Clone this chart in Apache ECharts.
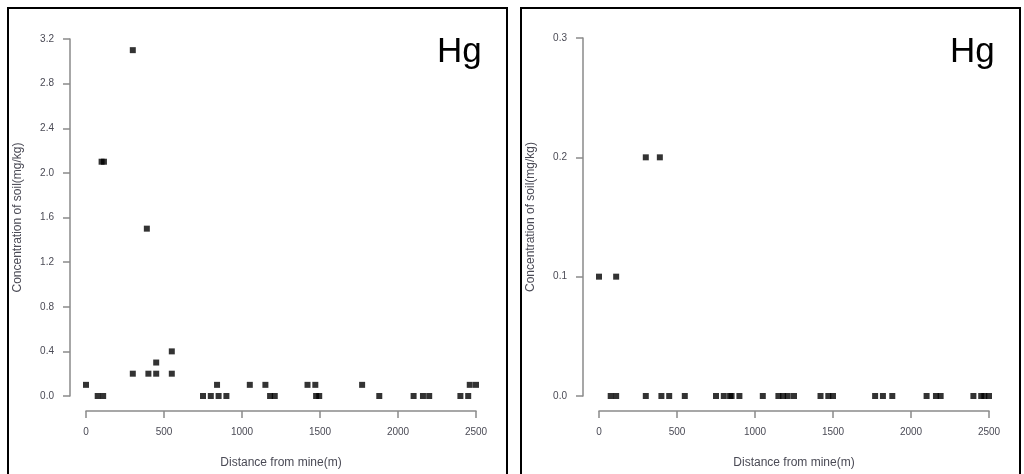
<!DOCTYPE html>
<html><head><meta charset="utf-8">
<script src="https://cdn.jsdelivr.net/npm/echarts@6/dist/echarts.min.js"></script>
<style>html,body{margin:0;padding:0;background:#fff}#c{width:1024px;height:474px}</style>
</head><body><div id="c"></div>
<script>
const leftX = [0, 75, 110, 100, 115, 300, 300, 390, 400, 450, 450, 550, 550, 750, 800, 840, 850, 900, 1050, 1150, 1180, 1210, 1420, 1470, 1475, 1495, 1770, 1880, 2100, 2160, 2200, 2400, 2450, 2460, 2500];
const leftY = [0.1, 0, 0, 2.1, 2.1, 3.1, 0.2, 1.5, 0.2, 0.3, 0.2, 0.4, 0.2, 0, 0, 0.1, 0, 0, 0.1, 0.1, 0, 0, 0.1, 0.1, 0, 0, 0.1, 0, 0, 0, 0, 0, 0, 0.1, 0.1];
const rightX = [0, 110, 300, 390, 75, 110, 300, 400, 450, 550, 750, 800, 840, 850, 900, 1050, 1150, 1180, 1210, 1250, 1420, 1470, 1500, 1770, 1820, 1880, 2100, 2160, 2190, 2400, 2450, 2470, 2500];
const rightY = [0.1, 0.1, 0.2, 0.2, 0, 0, 0, 0, 0, 0, 0, 0, 0, 0, 0, 0, 0, 0, 0, 0, 0, 0, 0, 0, 0, 0, 0, 0, 0, 0, 0, 0, 0];
const xTicks = [0, 500, 1000, 1500, 2000, 2500];
const leftYTicks = [0, 0.4, 0.8, 1.2, 1.6, 2.0, 2.4, 2.8, 3.2];
const rightYTicks = [0, 0.1, 0.2, 0.3];
const xName = 'Distance from mine(m)';
const yName = 'Concentration of soil(mg/kg)';
const panelLabel = 'Hg';

const FONT = 'Liberation Sans, Arial, sans-serif';
const axisCol = '#8a8a8a';
const txtCol = '#4a4a55';
function pairs(xs, ys){ return xs.map((x,i)=>[x, ys[i]]); }
const hidden = {show:false};
function hx(gi, min, max){ return {gridIndex:gi, type:'value', min:min, max:max, show:false, splitLine:hidden}; }
function visX(gi){
  return {gridIndex: gi, type:'value', min: xTicks[0], max: xTicks[xTicks.length-1], interval: 500, position:'bottom',
    splitLine:{show:false},
    axisLine:{show:true, lineStyle:{color:axisCol, width:1.5}},
    axisTick:{show:true, length:7, lineStyle:{color:axisCol, width:1.5}},
    axisLabel:{margin:16, color:txtCol, fontSize:10, fontFamily:FONT, formatter: v => String(v)},
    name: xName, nameLocation:'middle', nameGap:46, nameTextStyle:{color:txtCol, fontSize:12, fontFamily:FONT}};
}
function visY(gi, ticks){
  const iv = +(ticks[1]-ticks[0]).toFixed(3);
  return {gridIndex: gi, type:'value', min: ticks[0], max: ticks[ticks.length-1], interval: iv, position:'left',
    splitLine:{show:false},
    axisLine:{show:true, lineStyle:{color:axisCol, width:1.5}},
    axisTick:{show:true, length:7, lineStyle:{color:axisCol, width:1.5}},
    axisLabel:{margin:16, color:txtCol, fontSize:10, fontFamily:FONT, formatter: v => v.toFixed(1)},
    name: yName, nameLocation:'middle', nameGap:46, nameTextStyle:{color:txtCol, fontSize:12, fontFamily:FONT}};
}
const panels = [
  {left:86, top:39, height:357, yTicks:leftYTicks},
  {left:599, top:38, height:358, yTicks:rightYTicks}
];
const grids = [], xAxes = [], yAxes = [];
panels.forEach((p, i) => {
  const g = i*3;
  const ymin = p.yTicks[0], ymax = p.yTicks[p.yTicks.length-1];
  grids.push({left:p.left, width:390, top:p.top, height:p.height});
  xAxes.push(hx(g, xTicks[0], xTicks[xTicks.length-1]));
  yAxes.push(hx(g, ymin, ymax));
  grids.push({left:p.left, width:390, top:p.top, height:p.height+16});
  xAxes.push(visX(g+1));
  yAxes.push(hx(g+1, 0, 1));
  grids.push({left:p.left-16, width:406, top:p.top, height:p.height});
  xAxes.push(hx(g+2, 0, 1));
  yAxes.push(visY(g+2, p.yTicks));
});
const chart = echarts.init(document.getElementById('c'), null, {renderer:'canvas'});
chart.setOption({
  animation:false,
  backgroundColor:'#fff',
  grid: grids,
  xAxis: xAxes,
  yAxis: yAxes,
  series:[
    {type:'scatter', xAxisIndex:0, yAxisIndex:0, data: pairs(leftX,leftY), symbol:'rect', symbolSize:6, clip:false, itemStyle:{color:'#000'}},
    {type:'scatter', xAxisIndex:3, yAxisIndex:3, data: pairs(rightX,rightY), symbol:'rect', symbolSize:6, clip:false, itemStyle:{color:'#000'}}
  ],
  graphic:[
    {type:'rect', shape:{x:8, y:8, width:499, height:480}, style:{fill:'none', stroke:'#000', lineWidth:2}},
    {type:'rect', shape:{x:521, y:8, width:499, height:480}, style:{fill:'none', stroke:'#000', lineWidth:2}},
    {type:'text', x:437, y:35, style:{text:panelLabel, fontSize:35, fontFamily:FONT, fill:'#000'}},
    {type:'text', x:950, y:35, style:{text:panelLabel, fontSize:35, fontFamily:FONT, fill:'#000'}}
  ]
});
</script></body></html>
